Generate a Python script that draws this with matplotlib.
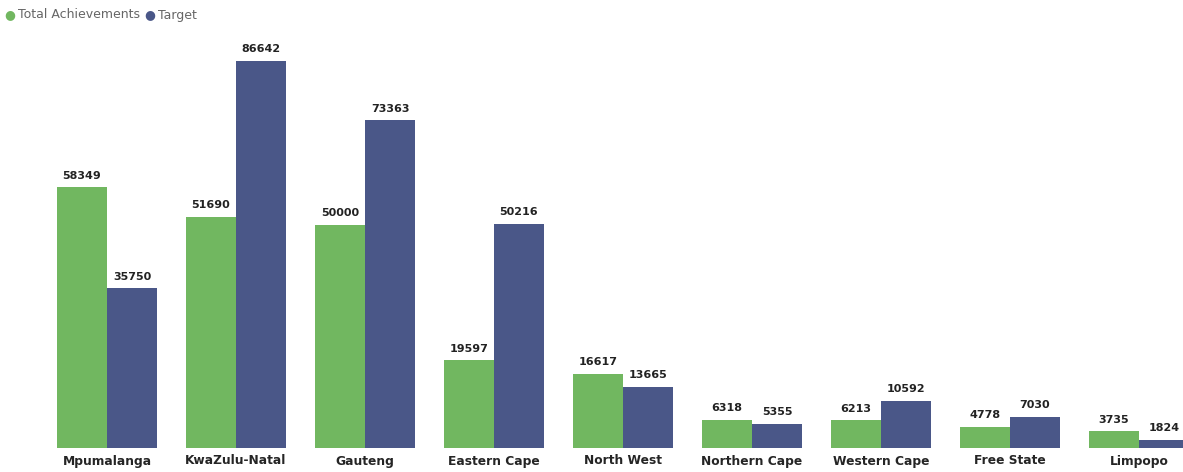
import matplotlib.pyplot as plt
import numpy as np

provinces = ["Mpumalanga", "KwaZulu-Natal", "Gauteng", "Eastern Cape", "North West",
             "Northern Cape", "Western Cape", "Free State", "Limpopo"]
achievements = [58349, 51690, 50000, 19597, 16617, 6318, 6213, 4778, 3735]
target = [35750, 86642, 73363, 50216, 13665, 5355, 10592, 7030, 1824]

green = "#71B760"
blue = "#4A5788"

fig = plt.figure(figsize=(11.83, 4.72), dpi=100)
ax = fig.add_axes([0, 24 / 472, 1, 448 / 472])

x = np.arange(len(provinces))
w = 50 / 129

ax.bar(x - w / 2, achievements, width=w, color=green)
ax.bar(x + w / 2, target, width=w, color=blue)

for xi, a, t in zip(x, achievements, target):
    ax.text(xi - w / 2, a + 1500, str(a), ha="center", va="bottom",
            fontsize=8, fontweight="bold", color="#222222")
    ax.text(xi + w / 2, t + 1500, str(t), ha="center", va="bottom",
            fontsize=8, fontweight="bold", color="#222222")

ax.set_xlim(-107 / 129, (1183 - 107) / 129)
ax.set_ylim(0, 448 / 4.467 * 1000)
ax.axis("off")

# province names under each group
for xi, name in zip(x, provinces):
    fig.text((107 + 129 * xi) / 1183, 11 / 472, name, ha="center", va="center",
             fontsize=8.8, fontweight="bold", color="#252525")

# legend dots
fig.text(4 / 1183, 1 - 15 / 472, "\u25CF", color=green, fontsize=9, va="center")
fig.text(18 / 1183, 1 - 15 / 472, "Total Achievements", color="#666666", fontsize=9, va="center")
fig.text(144 / 1183, 1 - 15 / 472, "\u25CF", color=blue, fontsize=9, va="center")
fig.text(158 / 1183, 1 - 15 / 472, "Target", color="#666666", fontsize=9, va="center")

fig.savefig("out.png", dpi=100)
